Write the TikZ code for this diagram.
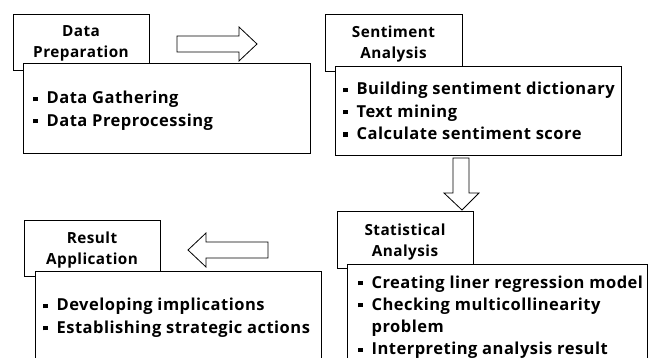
\documentclass[tikz,border=0pt]{standalone}
\usepackage{fontspec}
\setmainfont{Open Sans}[LetterSpace=3]
\newcommand\bul{\rule[2.7pt]{4.2pt}{4.2pt}}
\begin{document}
\begin{tikzpicture}[x=1pt,y=-1pt, line width=0.8pt,
  titlebox/.style={draw, fill=white, align=center, inner sep=0pt,
    text depth=-1.5pt, font=\bfseries\fontsize{15.3}{21}\selectfont},
  detailbox/.style={draw, fill=white, inner sep=0pt},
  blockarrow/.style={draw, fill=white, line join=miter},
  itemlist/.style={anchor=base west, inner sep=0pt,
    font=\bfseries\fontsize{16.5}{22.2}\selectfont}]
\useasboundingbox (0,0) rectangle (651,358);

% Data Preparation
\node[titlebox, minimum width=136, minimum height=56] (t1) at (81,42) {Data\\Preparation};
\node[detailbox, minimum width=287, minimum height=90] (d1) at (166.5,108) {};
\node[itemlist] (l1) at (33,104) {\begin{tabular}[t]{@{}l@{\hspace{9pt}}l@{}}
\bul & Data Gathering\\
\bul & Data Preprocessing
\end{tabular}};

% Sentiment Analysis
\node[titlebox, minimum width=137, minimum height=57] (t2) at (393.5,42.5) {Sentiment\\Analysis};
\node[detailbox, minimum width=286, minimum height=89] (d2) at (478,110.5) {};
\node[itemlist] (l2) at (343,95) {\begin{tabular}[t]{@{}l@{\hspace{9pt}}l@{}}
\bul & Building sentiment dictionary\\
\bul & Text mining\\
\bul & Calculate sentiment score
\end{tabular}};

% Statistical Analysis
\node[titlebox, minimum width=136, minimum height=57] (t3) at (405,240) {Statistical\\Analysis};
\node[detailbox, minimum width=300, minimum height=110] (d3) at (497,319) {};
\node[itemlist] (l3) at (358,288) {\begin{tabular}[t]{@{}l@{\hspace{9pt}}l@{}}
\bul & Creating liner regression model\\
\bul & Checking multicollinearity\\
 & problem\\
\bul & Interpreting analysis result
\end{tabular}};

% Result Application
\node[titlebox, minimum width=136, minimum height=56] (t4) at (92,248.5) {Result\\Application};
\node[detailbox, minimum width=286, minimum height=100] (d4) at (178,321) {};
\node[itemlist] (l4) at (43,311) {\begin{tabular}[t]{@{}l@{\hspace{9pt}}l@{}}
\bul & Developing implications\\
\bul & Establishing strategic actions
\end{tabular}};

% block arrows
\draw[blockarrow] (177,36) -- (239,36) -- (239,27) -- (257,44) -- (239,61) -- (239,52) -- (177,52) -- cycle;
\draw[blockarrow] (453,158) -- (469,158) -- (469,193) -- (479,193) -- (462,210) -- (444,193) -- (453,193) -- cycle;
\draw[blockarrow] (268,242) -- (206,242) -- (206,233) -- (188,250) -- (206,267) -- (206,258) -- (268,258) -- cycle;
\end{tikzpicture}
\end{document}
